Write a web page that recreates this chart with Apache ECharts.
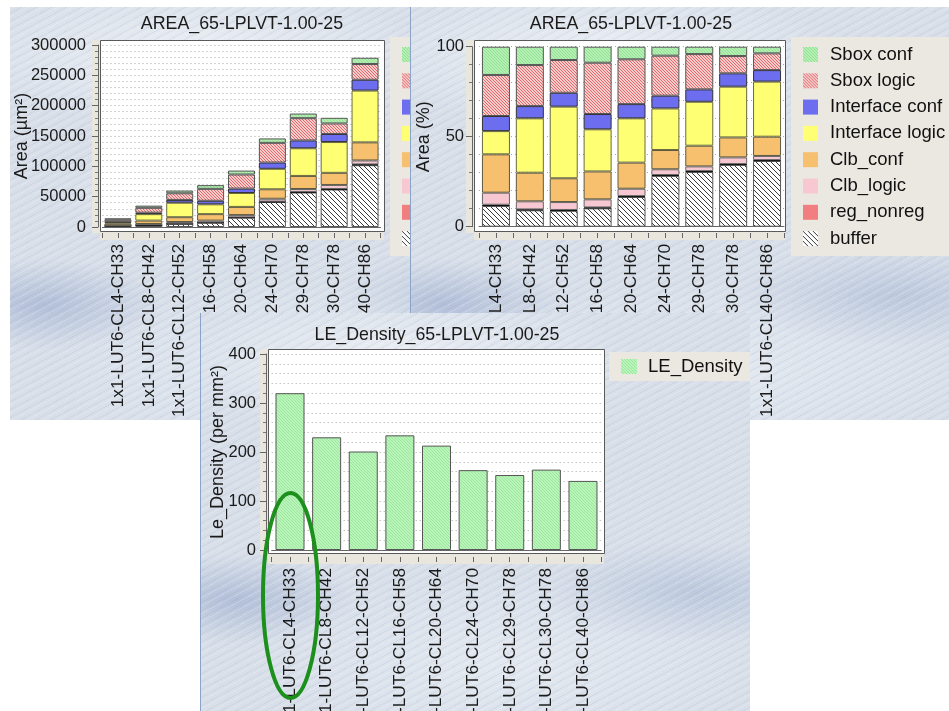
<!DOCTYPE html>
<html>
<head>
<meta charset="utf-8">
<script src="https://cdn.jsdelivr.net/npm/echarts@6/dist/echarts.min.js"></script>
<style>
  html, body { margin:0; padding:0; background:#ffffff; }
  body { width:949px; height:711px; position:relative; overflow:hidden; }
  .panel { position:absolute; overflow:hidden; }
  .tex {
    background-color:#d8dfe9;
    background-image:
      repeating-linear-gradient(-28deg, rgba(255,255,255,0.20) 0px, rgba(255,255,255,0.20) 1px, rgba(255,255,255,0) 1px, rgba(255,255,255,0) 3px, rgba(110,130,170,0.10) 3px, rgba(110,130,170,0.10) 4px, rgba(255,255,255,0) 4px, rgba(255,255,255,0) 7px),
      radial-gradient(ellipse 120px 45px at 6% 72%, rgba(140,160,200,0.5), rgba(140,160,200,0)),
      radial-gradient(ellipse 240px 70px at 35% 12%, rgba(246,248,251,0.65), rgba(246,248,251,0)),
      radial-gradient(ellipse 160px 50px at 90% 70%, rgba(150,170,205,0.4), rgba(150,170,205,0)),
      radial-gradient(ellipse 260px 90px at 55% 88%, rgba(236,240,246,0.55), rgba(236,240,246,0)),
      radial-gradient(ellipse 120px 40px at 30% 45%, rgba(236,240,246,0.5), rgba(236,240,246,0));
  }
  #p1 { left:10px; top:7px; width:540px; height:413px; z-index:1; }
  #p2 { left:410px; top:7px; width:539px; height:413px; z-index:2; border-left:1px solid #8aa3c6; box-sizing:border-box; }
  #p3 { left:200px; top:313px; width:550px; height:398px; z-index:3; border-left:1px solid #8aa3c6; box-sizing:border-box; }
  .chart { position:absolute; left:0; top:0; width:100%; height:100%; }
</style>
</head>
<body>
<div id="p1" class="panel tex"><div id="c1" class="chart"></div></div>
<div id="p2" class="panel tex"><div id="c2" class="chart"></div></div>
<div id="p3" class="panel tex"><div id="c3" class="chart"></div></div>
<script>
// ---------------- DATA ----------------
const categories = ['1x1-LUT6-CL4-CH33','1x1-LUT6-CL8-CH42','1x1-LUT6-CL12-CH52','1x1-LUT6-CL16-CH58','1x1-LUT6-CL20-CH64','1x1-LUT6-CL24-CH70','1x1-LUT6-CL29-CH78','1x1-LUT6-CL30-CH78','1x1-LUT6-CL40-CH86'];
const seriesNames = ['buffer','reg_nonreg','Clb_logic','Clb_conf','Interface logic','Interface conf','Sbox logic','Sbox conf'];
const legendOrder = ['Sbox conf','Sbox logic','Interface conf','Interface logic','Clb_conf','Clb_logic','reg_nonreg','buffer'];

// Area (µm²), absolute
const areaBuffer    = [1640, 3200, 5280, 7040, 15350, 41170, 56850, 61740, 101840];
const areaRegNonreg = [100, 180, 300, 350, 470, 730, 940, 900, 1400];
const areaClbLogic  = [960, 1580, 2640, 3110, 3810, 4670, 4860, 6660, 6420];
const areaClbConf   = [3050, 5600, 7920, 10700, 13490, 15620, 21510, 19980, 29850];
const areaIfLogic   = [1840, 10630, 23880, 16150, 22880, 33730, 45630, 50760, 85370];
const areaIfConf    = [1200, 2390, 4620, 5870, 7350, 10370, 12900, 13320, 17860];
const areaSboxLogic = [3260, 8030, 10920, 19670, 23160, 32410, 36650, 17280, 25950];
const areaSboxConf  = [2250, 3590, 4440, 6110, 6490, 7300, 7660, 9360, 10310];

// Area (%)
const pctBuffer    = [11.5, 9.1, 8.8, 10.2, 16.5, 28.2, 30.4, 34.3, 36.5];
const pctRegNonreg = [0.7, 0.5, 0.5, 0.5, 0.5, 0.5, 0.5, 0.5, 0.5];
const pctClbLogic  = [6.7, 4.5, 4.4, 4.5, 4.1, 3.2, 2.6, 3.7, 2.3];
const pctClbConf   = [21.3, 15.9, 13.2, 15.5, 14.5, 10.7, 11.5, 11.1, 10.7];
const pctIfLogic   = [12.9, 30.2, 39.8, 23.4, 24.6, 23.1, 24.4, 28.2, 30.6];
const pctIfConf    = [8.4, 6.8, 7.7, 8.5, 7.9, 7.1, 6.9, 7.4, 6.4];
const pctSboxLogic = [22.8, 22.8, 18.2, 28.5, 24.9, 22.2, 19.6, 9.6, 9.3];
const pctSboxConf  = [15.7, 10.2, 7.4, 8.9, 7.0, 5.0, 4.1, 5.2, 3.7];

// LE density (per mm²)
const leDensity = [320, 230, 201, 234, 213, 163, 153, 164, 141];

const areaTitle = 'AREA_65-LPLVT-1.00-25';
const densityTitle = 'LE_Density_65-LPLVT-1.00-25';

// ---------------- STYLE ----------------
const FONT = '"Liberation Sans", Arial, Helvetica, sans-serif';
const TXT = '#1a1a1a';

function hatch(bg, fg, size, lw) {
  const c = document.createElement('canvas');
  c.width = size; c.height = size;
  const g = c.getContext('2d');
  g.fillStyle = bg; g.fillRect(0, 0, size, size);
  g.strokeStyle = fg; g.lineWidth = lw;
  g.beginPath();
  g.moveTo(-size, 0); g.lineTo(0, size);
  g.moveTo(0, 0); g.lineTo(size, size);
  g.moveTo(size, 0); g.lineTo(2 * size, size);
  g.stroke();
  return { image: c, repeat: 'repeat' };
}

const fills = {
  'buffer': hatch('#ffffff', '#3a3a3a', 5, 1),
  'reg_nonreg': '#f27f7f',
  'Clb_logic': '#f8c8d2',
  'Clb_conf': '#f6c06e',
  'Interface logic': '#ffff74',
  'Interface conf': '#6d6df0',
  'Sbox logic': hatch('#f8cccc', '#e06a6a', 3, 1),
  'Sbox conf': hatch('#b4f0b4', '#94e094', 3, 1)
};
const borders = {
  'buffer': '#555', 'reg_nonreg': '#111', 'Clb_logic': '#666', 'Clb_conf': '#5e5a40',
  'Interface logic': '#6a6a40', 'Interface conf': '#333', 'Sbox logic': '#555', 'Sbox conf': '#555'
};

function halfTicks() { return categories.flatMap((c, i) => ['l' + i, 'r' + i]); }

function plotDecor(f, axisX, axisY) {
  return [
    { type:'rect', z:-5, silent:true, shape:{ x:axisX - 6, y:f.y, width:f.x - axisX + 6, height:f.h + 2 }, style:{ fill:'#e9e6dd' } },
    { type:'rect', z:-5, silent:true, shape:{ x:f.x, y:f.y + f.h, width:f.w, height:axisY - (f.y + f.h) + 7 }, style:{ fill:'#e9e6dd' } },
    { type:'rect', z:-4, silent:true, shape:{ x:f.x + 0.5, y:f.y + 0.5, width:f.w, height:f.h }, style:{ fill:'#ffffff', stroke:'#5a5a5a', lineWidth:1 } }
  ];
}

function valueAxis(p) {
  return {
    type:'value', min:0, max:p.ymax, interval:p.interval, offset:p.yOffset,
    name:p.yName, nameLocation:'middle', nameGap:p.nameGap, nameMoveOverlap:false,
    nameTextStyle:{ fontFamily:FONT, fontSize:18, color:TXT },
    axisLine:{ show:true, lineStyle:{ color:'#666' } },
    axisTick:{ show:true, length:6, lineStyle:{ color:'#666' } },
    minorTick:{ show:true, splitNumber:p.minorSplit, length:3, lineStyle:{ color:'#777' } },
    axisLabel:{ margin:p.labelMargin, fontFamily:FONT, fontSize:16.5, color:TXT, formatter:(v) => String(v) },
    splitLine:{ show:true, lineStyle:{ type:[1, 3], color:'#a9a9a9', width:1 } },
    minorSplitLine:{ show:true, lineStyle:{ type:[1, 3], color:'#a9a9a9', width:1 } }
  };
}

function categoryAxes(p) {
  return [
    { type:'category', data:categories, position:'bottom', offset:p.xOffset,
      axisLine:{ show:true, lineStyle:{ color:'#666' } }, axisTick:{ show:false },
      axisLabel:{ rotate:90, interval:0, margin:11, fontFamily:FONT, fontSize:17.3, color:TXT } },
    { type:'category', data:halfTicks(), position:'bottom', offset:p.xOffset,
      axisLine:{ show:false }, axisTick:{ show:true, interval:0, length:5, lineStyle:{ color:'#666' } },
      axisLabel:{ show:false }, splitLine:{ show:false } }
  ];
}

function gridOf(p) {
  return { left:p.gridLeft, top:p.gridTop, width:p.gridW, height:p.gridH, containLabel:false, outerBoundsMode:'none' };
}

function stackedOption(p, dataBySeries) {
  return {
    animation:false,
    title:{ text:areaTitle, left:p.titleX, top:8, textAlign:'center', padding:0,
      textStyle:{ fontFamily:FONT, fontSize:17.8, fontWeight:'normal', color:TXT } },
    legend:{ orient:'vertical', left:380, top:30, padding:[8, 60, 8, 12], backgroundColor:'#ebe8e1',
      itemWidth:15, itemHeight:15, itemGap:7.3, icon:'rect', data:legendOrder,
      itemStyle:{ borderWidth:0 },
      textStyle:{ fontFamily:FONT, fontSize:18.5, color:'#111', lineHeight:16, padding:[0, 0, 0, 7] } },
    grid: gridOf(p),
    xAxis: categoryAxes(p),
    yAxis: valueAxis(p),
    graphic: plotDecor(p.frame, p.gridLeft - p.yOffset, p.gridTop + p.gridH + p.xOffset),
    series: seriesNames.map((n, i) => ({
      name:n, type:'bar', stack:'total', xAxisIndex:0, yAxisIndex:0, barWidth:p.barWidth,
      itemStyle:{ color:fills[n], borderColor:borders[n], borderWidth:1 },
      data:dataBySeries[i]
    }))
  };
}

// ---------------- CHART 1 ----------------
const c1 = echarts.init(document.getElementById('c1'), null, { renderer:'canvas' });
c1.setOption(stackedOption({
  titleX:232, gridLeft:92.5, gridTop:38, gridW:278, gridH:182, yOffset:4.5, xOffset:6,
  frame:{ x:90, y:33, w:284, h:191 }, yName:'Area (µm²)', nameGap:67, labelMargin:12,
  ymax:300000, interval:50000, minorSplit:5, barWidth:27
}, [areaBuffer, areaRegNonreg, areaClbLogic, areaClbConf, areaIfLogic, areaIfConf, areaSboxLogic, areaSboxConf]));

// ---------------- CHART 2 ----------------
const c2 = echarts.init(document.getElementById('c2'), null, { renderer:'canvas' });
c2.setOption(stackedOption({
  titleX:220, gridLeft:68, gridTop:39.7, gridW:305, gridH:180, yOffset:7, xOffset:6.3,
  frame:{ x:63, y:33, w:311, h:191 }, yName:'Area (%)', nameGap:39, labelMargin:8,
  ymax:100, interval:50, minorSplit:5, barWidth:28
}, [pctBuffer, pctRegNonreg, pctClbLogic, pctClbConf, pctIfLogic, pctIfConf, pctSboxLogic, pctSboxConf]));

// ---------------- CHART 3 ----------------
const p3 = { gridLeft:70.7, gridTop:41, gridW:329.6, gridH:196, yOffset:5.7, xOffset:7,
  frame:{ x:67, y:36, w:336, h:204 }, yName:'Le_Density (per mm²)', nameGap:39, labelMargin:10,
  ymax:400, interval:100, minorSplit:5 };
const c3 = echarts.init(document.getElementById('c3'), null, { renderer:'canvas' });
c3.setOption({
  animation:false,
  title:{ text:densityTitle, left:236, top:13, textAlign:'center', padding:0,
    textStyle:{ fontFamily:FONT, fontSize:17.8, fontWeight:'normal', color:TXT } },
  legend:{ left:408, top:39, padding:[5, 8, 5, 12], backgroundColor:'#ebe8e1',
    itemWidth:16, itemHeight:15, icon:'rect', data:['LE_Density'], itemStyle:{ borderWidth:0 },
    textStyle:{ fontFamily:FONT, fontSize:18.5, color:'#111', lineHeight:16, padding:[0, 0, 0, 6] } },
  grid: gridOf(p3),
  xAxis: categoryAxes(p3),
  yAxis: valueAxis(p3),
  graphic: plotDecor(p3.frame, p3.gridLeft - p3.yOffset, p3.gridTop + p3.gridH + p3.xOffset).concat([
    { type:'ellipse', z:100, silent:true, shape:{ cx:89.5, cy:282.5, rx:27.5, ry:102.5 },
      style:{ fill:'none', stroke:'#1c8f1c', lineWidth:4 } }
  ]),
  series:[{
    name:'LE_Density', type:'bar', barWidth:29, xAxisIndex:0, yAxisIndex:0,
    itemStyle:{ color:hatch('#b8f5b8', '#9fe59f', 3, 1), borderColor:'#555', borderWidth:1 },
    data:leDensity
  }]
});
</script>
</body>
</html>
